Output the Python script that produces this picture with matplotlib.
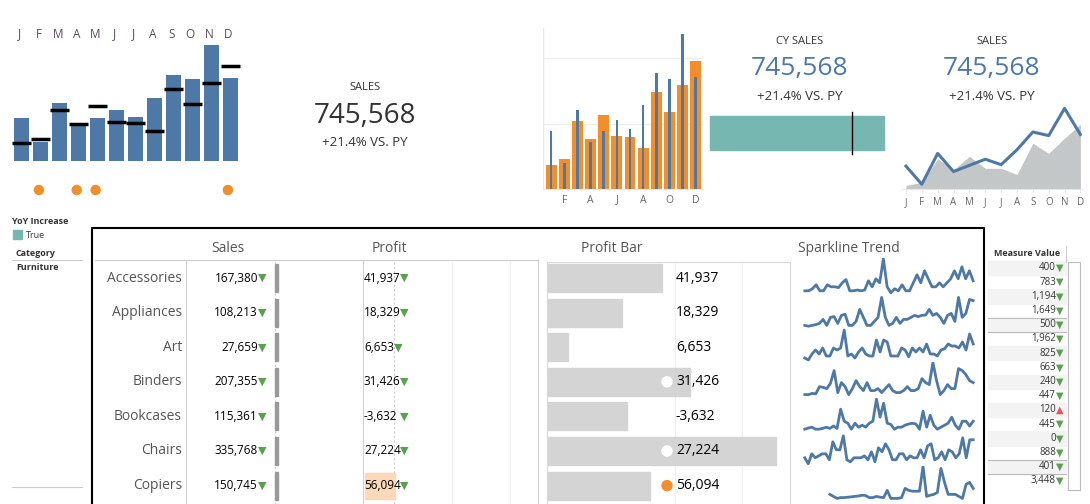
import numpy as np
import matplotlib.pyplot as plt
from matplotlib.patches import Rectangle

plt.rcParams['font.family'] = ['Open Sans', 'DejaVu Sans']

W, H = 1090, 504
BLUE = "#4e79a7"
ORANGE = "#f28e2b"
GREEN = "#59a14f"
GRAY = "#555555"

months = ["J", "F", "M", "A", "M", "J", "J", "A", "S", "O", "N", "D"]
# panel 1: current year bars and prior year marks
cy_sales = [43, 19, 58, 37, 43, 51, 44, 62, 85, 81, 115, 82]
py_sales = [18, 22, 51, 37, 55, 39, 38, 30, 71, 57, 77, 94]
below_py = [False, True, False, True, True, False, False, False, False, False, False, True]

# panel 3: orange (CY) and blue (PY) bars
orange_vals = [72, 90, 204, 150, 222, 159, 156, 123, 288, 231, 309, 381]
blue_vals = [174, 78, 237, 141, 174, 207, 180, 249, 345, 327, 462, 333]

# panel 5: line and area
line_vals = [63, 13, 98, 48, 65, 82, 67, 108, 157, 147, 222, 150]
area_vals = [10, 18, 83, 53, 90, 57, 57, 40, 126, 98, 140, 178]

kpi_total = "745,568"
kpi_delta = "+21.4% VS. PY"

categories = ["Accessories", "Appliances", "Art", "Binders", "Bookcases", "Chairs", "Copiers"]
sales = [167380, 108213, 27659, 207355, 115361, 335768, 150745]
profit = [41937, 18329, 6653, 31426, -3632, 27224, 56094]
profit_bar = [114, 74, 20, 142, 79, 228, 102]
dot_marks = [None, None, None, "white", None, "white", "orange"]

spark = [
    [1, 1, 1.5, 2.5, 1, 1, 2.5, 2, 2, 1.8, 3, 3.8, 1, 1, 1.2, 1, 1.2, 3.5, 2, 4, 3, 9, 2, 0.5, 1.5, 1, 2.5, 1, 1, 3, 5, 3, 6, 4, 2, 2, 3, 2, 3, 4, 6, 4, 7, 4, 6, 3.5],
    [1, 0.8, 1, 1.2, 1.5, 2.5, 1, 3, 3.2, 1.5, 3.5, 3.8, 1, 1, 2, 5, 3, 1, 1, 2, 3, 8, 3, 1, 1.5, 3, 1.5, 2.5, 2.5, 3, 3.5, 3.2, 3.5, 3.6, 5, 3.5, 4, 3, 1.5, 3.5, 4, 2, 8, 3, 4, 7.5, 7.2],
    [1.5, 1, 2.5, 3.5, 2.5, 4, 2, 2, 4, 3.5, 4, 8.5, 2, 2.5, 1.5, 3, 4, 2.5, 2, 2, 6, 3, 6, 5.5, 2, 2, 2, 4, 3.5, 1.8, 4, 3, 4, 3, 5, 2.5, 2.5, 2, 3.5, 3.8, 5, 4.5, 4.5, 4, 5.5, 3.5, 7.5, 5],
    [1, 1, 1.3, 1.2, 3, 2.8, 2.5, 3.8, 7, 1.5, 4, 3, 1, 2.5, 4.5, 3, 2, 4, 2, 2, 2.5, 1.5, 2.5, 3.5, 2, 1.5, 1.5, 2, 3, 2, 2, 2.5, 5, 4, 3.5, 9, 4.5, 1, 2, 3.5, 2.5, 2.5, 7.5, 7, 6, 4.5, 4],
    [1, 1.3, 1.5, 1, 1, 1.2, 1.5, 1.2, 1.8, 1.2, 6, 3, 2.5, 1, 2.5, 1.5, 2, 1.5, 2.5, 3, 8.5, 4, 7.5, 2.5, 2.2, 1, 1.5, 1.5, 2, 2.3, 2.5, 2.3, 1, 5.5, 1.5, 4.5, 2, 1, 1.5, 2, 2.5, 4, 2, 1, 3, 3, 1.8, 3],
    [2.5, 1, 3.5, 2.5, 3, 3.5, 3.5, 2, 6.5, 4.5, 4.5, 8, 2, 1.5, 2.5, 2.5, 2.5, 3, 2, 4, 1.5, 5, 4, 6, 4.5, 2, 2, 3.5, 3.5, 2, 3, 2.5, 2.5, 4.5, 2.5, 5.5, 6, 2, 2.5, 4, 2, 4.5, 4, 2.5, 3.5, 7.5, 2.5, 7, 7],
    [None, None, None, None, None, None, None, 2, 1.5, 1, 1.2, 1.2, 1.3, 1.4, 1.5, 1.6, 1.8, 1.7, 1.2, 1.2, 1.5, 1.3, 1.2, 3, 1, 1, 1, 1.2, 3.5, 3, 2.8, 2.8, 2.8, 9, 1.5, 1.8, 2, 2.5, 8.5, 5, 2, 2, 2, 1.5, 1, 4.5, 5, 3.5],
]

measure_vals = ["400", "783", "1,194", "1,649", "500", "1,962", "825", "663", "240", "447", "120", "445", "0", "888", "401", "3,448"]
measure_up = [False] * 10 + [True] + [False] * 5

fig = plt.figure(figsize=(W / 100, H / 100), dpi=100)


def px_axes(x0, y0, x1, y1):
    ax = fig.add_axes([x0 / W, 1 - y1 / H, (x1 - x0) / W, (y1 - y0) / H])
    ax.patch.set_alpha(0)
    for s in ax.spines.values():
        s.set_visible(False)
    ax.set_xticks([])
    ax.set_yticks([])
    return ax


base = px_axes(0, 0, W, H)
base.set_xlim(0, W)
base.set_ylim(H, 0)

# ---- panel 1
ax1 = px_axes(10, 40, 242, 161)
x = np.arange(12)
ax1.bar(x, cy_sales, width=0.8, color=BLUE)
for i, v in enumerate(py_sales):
    ax1.plot([i - 0.52, i + 0.52], [v, v], color="black", lw=2.5, solid_capstyle="butt")
ax1.set_xlim(-0.6, 11.6)
ax1.set_ylim(0, 120)
for i, m in enumerate(months):
    base.text(20 + i * 18.9, 34, m, ha="center", va="center", fontsize=8.5, color="#5a4a5a")
    if below_py[i]:
        base.add_patch(plt.Circle((20 + i * 18.9, 190), 4.5, color=ORANGE))

# ---- panel 2 KPI
base.text(365, 88, "SALES", ha="center", va="center", fontsize=8, color="#333333")
base.text(365, 116, kpi_total, ha="center", va="center", fontsize=20, color="#333333")
base.text(365, 143, kpi_delta, ha="center", va="center", fontsize=9.5, color="#333333")

# ---- panel 3
ax3 = px_axes(543, 28, 703, 189)
ax3.bar(x, orange_vals, width=0.82, color=ORANGE, zorder=2)
ax3.bar(x, blue_vals, width=0.2, color=BLUE, zorder=3)
for g in [194, 390]:
    ax3.axhline(g, color="#eeeeee", lw=1, zorder=0)
ax3.axvline(-0.62, color="#e8e8e8", lw=1)
ax3.set_xlim(-0.62, 11.55)
ax3.set_ylim(0, 480)
ax3.spines["bottom"].set_visible(True)
ax3.spines["bottom"].set_color("#e8e8e8")
ax3.set_xticks(x[1::2])
ax3.set_xticklabels(months[1::2], fontsize=7.5, color="#666666")
ax3.tick_params(length=0, pad=4)

# ---- panel 4
base.text(800, 42, "CY SALES", ha="center", va="center", fontsize=8, color="#333333")
base.text(800, 68, kpi_total, ha="center", va="center", fontsize=19, color=BLUE)
base.text(800, 96, kpi_delta, ha="center", va="center", fontsize=9.5, color="#333333")
base.add_patch(Rectangle((710, 116), 174, 34, color="#76b7b2"))
base.plot([852, 852], [112, 154], color="black", lw=1)

# ---- panel 5
base.text(992, 42, "SALES", ha="center", va="center", fontsize=8, color="#333333")
base.text(992, 68, kpi_total, ha="center", va="center", fontsize=19, color=BLUE)
base.text(992, 96, kpi_delta, ha="center", va="center", fontsize=9.5, color="#333333")
ax5 = px_axes(902, 100, 1082, 189)
ax5.fill_between(x, area_vals, color="#c4c7c8", lw=0)
ax5.plot(x, line_vals, color=BLUE, lw=2.2)
ax5.set_xlim(-0.25, 11.1)
ax5.set_ylim(0, 245)
ax5.spines["bottom"].set_visible(True)
ax5.spines["bottom"].set_color("#e6e6e6")
ax5.set_xticks(x)
ax5.set_xticklabels(months, fontsize=7, color="#666666")
ax5.tick_params(length=3, color="#e6e6e6", pad=3)

# ---- legend
base.text(12, 222, "YoY Increase", fontsize=6.5, fontweight="bold", va="center", color="#333333")
base.add_patch(Rectangle((13, 230), 9, 9, color="#76b7b2"))
base.text(26, 235, "True", fontsize=6.5, va="center", color="#333333")
base.text(16, 254, "Category", fontsize=6.5, fontweight="bold", va="center", color="#333333")
base.plot([12, 82], [260, 260], color="#cccccc", lw=0.8)
base.text(16, 268, "Furniture", fontsize=6.5, fontweight="bold", va="center", color="#333333")
base.plot([12, 82], [487, 487], color="#cccccc", lw=0.8)

# ---- table
base.plot([92, 92, 984, 984], [504, 228, 228, 504], color="black", lw=1.5)
base.text(228, 249, "Sales", ha="center", va="center", fontsize=10, color=GRAY)
base.text(389, 249, "Profit", ha="center", va="center", fontsize=10, color=GRAY)
base.text(612, 249, "Profit Bar", ha="center", va="center", fontsize=10, color=GRAY)
base.text(849, 249, "Sparkline Trend", ha="center", va="center", fontsize=10, color=GRAY)
base.plot([95, 538], [260, 260], color="#cccccc", lw=0.8)
base.plot([186, 186], [260, 504], color="#d0d0d0", lw=0.8)
base.plot([275, 275], [262, 504], color="#cccccc", lw=0.8, ls=(0, (2, 2)), zorder=0)
base.plot([363, 363], [260, 504], color="#d0d0d0", lw=0.8)
base.plot([394, 394], [262, 504], color="#cccccc", lw=0.8, ls=(0, (2, 2)), zorder=0)
for gx in [452, 510]:
    base.plot([gx, gx], [262, 504], color="#eeeeee", lw=0.8, zorder=0)
base.plot([538, 538], [260, 504], color="#d0d0d0", lw=0.8)
base.plot([547, 547, 790, 790], [504, 262, 262, 504], color="#d8d8d8", lw=0.8)
for gx in [675, 742]:
    base.plot([gx, gx], [262, 504], color="#f0f0f0", lw=0.8, zorder=0)

row_y = 278 + 34.6 * np.arange(len(categories))
for i, cat in enumerate(categories):
    y = row_y[i]
    base.text(182, y, cat, ha="right", va="center", fontsize=10, color=GRAY)
    base.text(258, y, f"{sales[i]:,}", ha="right", va="center", fontsize=8.5, color="black")
    base.text(258, y, "▼", ha="left", va="center", fontsize=8, color=GREEN, family="DejaVu Sans")
    base.add_patch(Rectangle((275, y - 14), 3, 28, color="#999999", zorder=3))
    if i == 6:
        base.add_patch(Rectangle((365, y - 13), 30, 26, color="#fbd8b8"))
    base.text(364, y, f"{profit[i]:,}", ha="left", va="center", fontsize=8.5, color="black")
    tx = 364 + 6.0 * len(f"{profit[i]:,}")
    base.text(tx, y, "▼", ha="left", va="center", fontsize=8, color=GREEN, family="DejaVu Sans")
    base.add_patch(Rectangle((548, y - 14), profit_bar[i], 28, color="#d4d4d4"))
    base.text(676, y, f"{profit[i]:,}", ha="left", va="center", fontsize=10, color="black")
    if dot_marks[i] == "white":
        base.add_patch(plt.Circle((667, y), 5, color="white"))
    elif dot_marks[i] == "orange":
        base.add_patch(plt.Circle((667, y), 5, color=ORANGE))
    axs = px_axes(803, y - 20, 975, y + 16)
    vals = np.array([np.nan if v is None else v for v in spark[i]], dtype=float)
    axs.plot(np.arange(len(vals)), vals, color=BLUE, lw=2)
    axs.set_xlim(-0.5, len(vals) - 0.5)
    axs.set_ylim(0.2, 9.2)

# ---- measure values
base.text(1027, 254, "Measure Value", ha="center", va="center", fontsize=6.5, fontweight="bold", color="#333333")
base.plot([1066, 1066], [246, 262], color="#cccccc", lw=0.8)
mv_y = 268 + 14.2 * np.arange(len(measure_vals))
for i, v in enumerate(measure_vals):
    y = mv_y[i]
    if i % 2 == 0:
        base.add_patch(Rectangle((988, y - 7), 78, 14.2, color="#f3f3f3"))
    base.text(1056, y, v, ha="right", va="center", fontsize=7, color="#333333")
    base.text(1056, y, "▲" if measure_up[i] else "▼", ha="left", va="center", fontsize=7,
              color="#e15759" if measure_up[i] else GREEN, family="DejaVu Sans")
for i in [4, 5, 14, 15]:
    base.plot([988, 1066], [mv_y[i] - 7, mv_y[i] - 7], color="#bbbbbb", lw=0.8)
base.add_patch(Rectangle((1068, 262), 12, 228, fill=False, ec="#bbbbbb", lw=0.8))

fig.savefig("out.png", dpi=100)
